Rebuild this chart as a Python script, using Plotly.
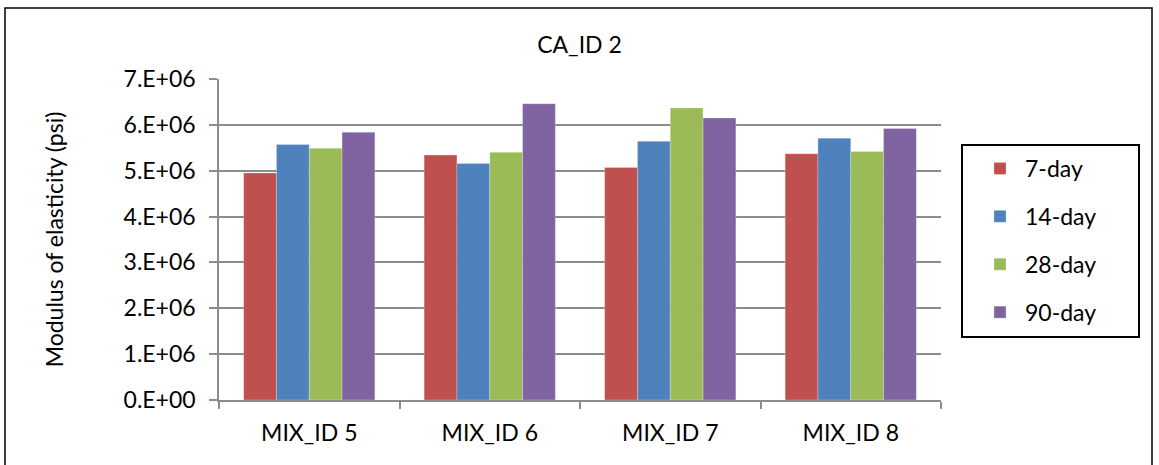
import plotly.graph_objects as go

# Modulus of elasticity by mix and curing age
mixes = ["MIX_ID 5", "MIX_ID 6", "MIX_ID 7", "MIX_ID 8"]
day7 = [4.95e6, 5.34e6, 5.07e6, 5.37e6]
day14 = [5.57e6, 5.16e6, 5.64e6, 5.71e6]
day28 = [5.49e6, 5.40e6, 6.37e6, 5.42e6]
day90 = [5.84e6, 6.46e6, 6.15e6, 5.92e6]

series = [
    ("7-day", day7, "#C0504D"),
    ("14-day", day14, "#4F81BD"),
    ("28-day", day28, "#9BBB59"),
    ("90-day", day90, "#8064A2"),
]
y_ticks = [0, 1e6, 2e6, 3e6, 4e6, 5e6, 6e6, 7e6]
y_tick_labels = ["0.E+00", "1.E+06", "2.E+06", "3.E+06", "4.E+06", "5.E+06", "6.E+06", "7.E+06"]

FONT = "Lato, 'Open Sans', sans-serif"
FS = 23
W, H = 1159, 465
L, R, T, B = 219, 218, 79, 65

fig = go.Figure()
for i, (name, vals, color) in enumerate(series):
    fig.add_trace(go.Bar(
        x=mixes, y=vals, name=name,
        marker=dict(color=color, line=dict(color="rgba(255,255,255,0.5)", width=0.5)),
        legendgroup=f"g{i}",
    ))

pw = W - L - R
ph = H - T - B

def px_x(p):
    return (p - L) / pw

def px_y(p):
    return (H - B - p) / ph

fig.update_layout(
    width=W, height=H,
    margin=dict(l=L, r=R, t=T, b=B),
    paper_bgcolor="white", plot_bgcolor="white",
    font=dict(family=FONT, size=FS, color="black"),
    barmode="group", bargap=0.273, bargroupgap=0,
    title=dict(text="CA_ID 2", x=0.5, xanchor="center", y=1 - 45 / H, yanchor="middle",
               font=dict(size=FS, family=FONT)),
    xaxis=dict(
        showgrid=False, showline=True, linecolor="#8c8c8c", linewidth=1.5,
        ticks="outside", tickson="boundaries", ticklen=7, tickcolor="#8c8c8c", tickwidth=1.5,
        ticklabelstandoff=12,
        tickfont=dict(size=FS, family=FONT),
    ),
    yaxis=dict(
        range=[0, 7e6], tickvals=y_ticks, ticktext=y_tick_labels,
        showgrid=True, gridcolor="#8c8c8c", gridwidth=1.5,
        showline=True, linecolor="#8c8c8c", linewidth=1.5,
        ticks="outside", ticklen=8, tickcolor="#8c8c8c", tickwidth=1.5,
        ticklabelstandoff=9,
        tickfont=dict(size=FS, family=FONT), zeroline=False,
        title=dict(text="Modulus of elasticity (psi)", font=dict(size=FS, family=FONT), standoff=54),
    ),
    legend=dict(
        x=px_x(975), y=px_y(147), xanchor="left", yanchor="top",
        borderwidth=0, bgcolor="rgba(0,0,0,0)",
        font=dict(size=FS, family=FONT), traceorder="grouped", tracegroupgap=15,
        itemwidth=40,
    ),
    shapes=[
        dict(
            type="rect", xref="paper", yref="paper",
            x0=px_x(5), x1=px_x(1152), y0=px_y(480), y1=px_y(8),
            line=dict(color="black", width=1.5), fillcolor="rgba(0,0,0,0)", layer="below",
        ),
        dict(
            type="rect", xref="paper", yref="paper",
            x0=px_x(962), x1=px_x(1139), y0=px_y(337), y1=px_y(145),
            line=dict(color="black", width=2), fillcolor="rgba(0,0,0,0)", layer="below",
        ),
    ],
)

fig.write_html("out.html")
